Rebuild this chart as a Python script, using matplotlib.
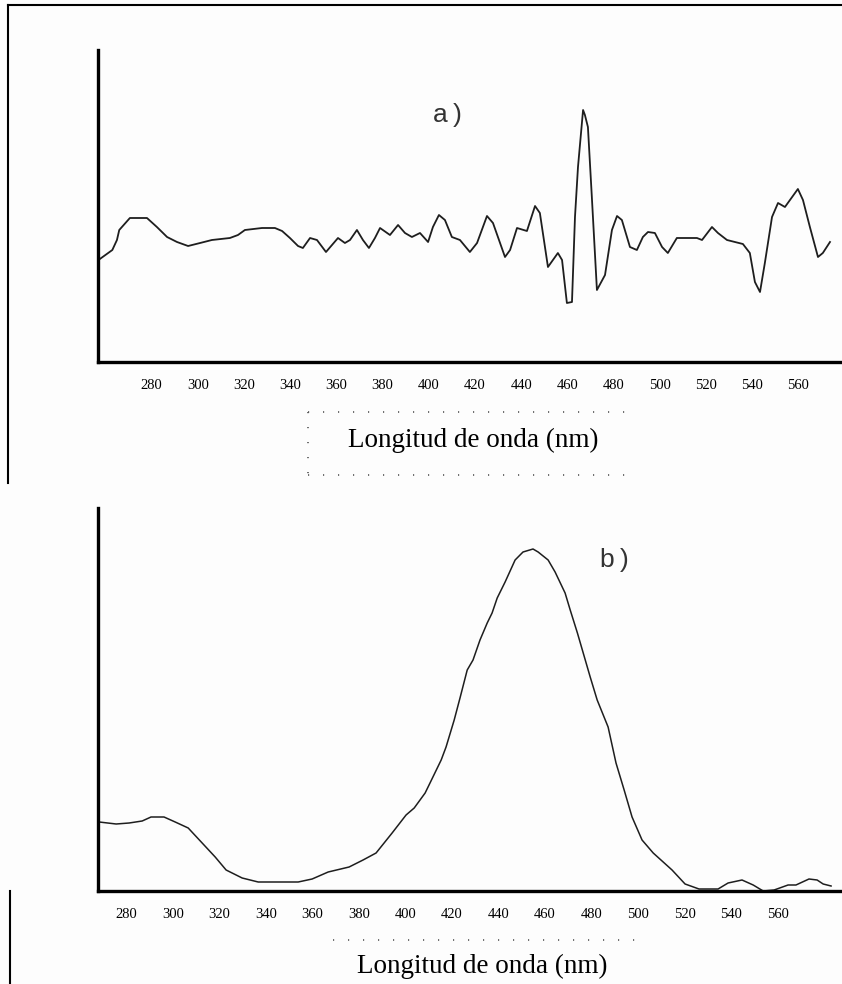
import matplotlib.pyplot as plt
from matplotlib.lines import Line2D

# ---------------------------------------
# Data
# ---------------------------------------
# a) derivative-like spectrum
wl_a = [257, 263, 265, 266, 270.6, 278, 282.3, 286.7, 291, 295.8, 301, 306.1, 313.9, 317.4,
        320.4, 327.8, 333.4, 336.5, 339.9, 343.4, 345.5, 348.6, 351.6, 355.5, 358.1, 360.7,
        363.7, 365.9, 368.9, 371.5, 374.1, 376.7, 378.9, 383.2, 386.7, 389.7, 392.7, 396.2,
        399.7, 401.8, 404.4, 407, 410, 413.5, 417.8, 420.9, 425.2, 427.8, 433, 435.2, 438.2,
        442.5, 446, 448.1, 451.6, 455.9, 457.7, 459.8, 462, 463.3, 464.6, 466.8, 467.6, 468.9,
        470.6, 472.8, 476.3, 479.3, 481.5, 483.6, 487.1, 490.1, 492.7, 494.9, 497.9, 501,
        503.5, 507.4, 516.1, 518.3, 522.6, 525.2, 529.1, 536, 539, 541.2, 543.4, 545.5, 548.6,
        551.2, 554.2, 559.8, 562, 565, 568.5, 570.6, 573.7]
sig_a = [1.02, 1.12, 1.22, 1.32, 1.44, 1.44, 1.35, 1.25, 1.20, 1.16, 1.19, 1.22, 1.24, 1.27,
         1.32, 1.34, 1.34, 1.31, 1.24, 1.16, 1.14, 1.24, 1.22, 1.10, 1.17, 1.24,
         1.19, 1.22, 1.32, 1.22, 1.14, 1.24, 1.34, 1.27, 1.37, 1.29, 1.25, 1.29,
         1.20, 1.35, 1.47, 1.42, 1.25, 1.22, 1.10, 1.19, 1.46, 1.39, 1.05, 1.12, 1.34,
         1.31, 1.56, 1.49, 0.95, 1.09, 1.02, 0.59, 0.60, 1.45, 1.95, 2.52, 2.47, 2.35,
         1.65, 0.72, 0.87, 1.32, 1.46, 1.42, 1.15, 1.12, 1.25, 1.30, 1.29, 1.15,
         1.09, 1.24, 1.24, 1.22, 1.35, 1.29, 1.22, 1.18, 1.09, 0.80, 0.70, 0.99, 1.45,
         1.59, 1.55, 1.73, 1.62, 1.35, 1.05, 1.09, 1.20]

# b) absorption band
wl_b = [268.2, 275.5, 281.1, 286.7, 290.5, 296.1, 300.9, 306.5, 312.5, 318.1, 322.8, 329.7,
        336.6, 353.8, 359.8, 366.7, 375.7, 381.7, 387.3, 394.2, 400.2, 403.7, 408.4, 410.5,
        415.3, 417.4, 420.9, 423.4, 426.5, 429, 432, 435.1, 437.2, 439.4, 442.8, 447.1, 450.5,
        454.8, 457, 461.3, 464.3, 468.6, 470.8, 473.9, 476.4, 479.4, 482.4, 487.1, 490.5, 494,
        497.4, 501.7, 506.5, 514.6, 520.2, 526.2, 534.4, 538.7, 544.7, 549.5, 553.8, 558.5,
        564.5, 567.9, 573.5, 577, 579.6, 583]
sig_b = [0.69, 0.67, 0.68, 0.70, 0.74, 0.74, 0.69, 0.63, 0.48, 0.34, 0.21, 0.13,
         0.09, 0.09, 0.12, 0.19, 0.24, 0.31, 0.38, 0.58, 0.76, 0.83, 0.98, 1.08,
         1.31, 1.44, 1.71, 1.93, 2.21, 2.31, 2.51, 2.68, 2.78, 2.93, 3.09, 3.31, 3.39,
         3.42, 3.39, 3.31, 3.19, 2.98, 2.81, 2.58, 2.38, 2.14, 1.91, 1.64, 1.28, 1.01,
         0.74, 0.51, 0.38, 0.21, 0.07, 0.02, 0.02, 0.08, 0.11, 0.06, 0.00, 0.01,
         0.06, 0.06, 0.12, 0.11, 0.07, 0.05]

ticks = [280, 300, 320, 340, 360, 380, 400, 420, 440, 460, 480, 500, 520, 540, 560]
xlabel = "Longitud de onda (nm)"

W, H = 842, 984
fig = plt.figure(figsize=(W / 100, H / 100), dpi=100)
fig.patch.set_facecolor('#fdfdfd')


def box(l, t, r, b):
    return [l / W, 1 - b / H, (r - l) / W, (b - t) / H]


def fline(xs, ys, **kw):
    fig.add_artist(Line2D([x / W for x in xs], [1 - y / H for y in ys],
                          transform=fig.transFigure, **kw))


def style(ax, xlim, ylim):
    ax.set_facecolor('none')
    ax.set_xlim(*xlim)
    ax.set_ylim(*ylim)
    for s in ['top', 'right']:
        ax.spines[s].set_visible(False)
    for s in ['left', 'bottom']:
        ax.spines[s].set_linewidth(2.4)
        ax.spines[s].set_color('black')
    ax.set_yticks([])
    ax.set_xticks(ticks)
    ax.set_xticklabels([str(t) for t in ticks], family='Liberation Serif', fontsize=10.5)
    ax.tick_params(axis='x', length=0, pad=12)


# ---------------------------------------
# Panel a
# ---------------------------------------
ax_a = fig.add_axes(box(98, 50, 842, 362))
ax_a.plot(wl_a, sig_a, color='#1e1e1e', lw=1.3)
style(ax_a, (256.8, 578.9), (0, 3.12))
ax_a.text(401.8, 2.47, "a\u2009)", family='Liberation Sans', fontsize=19, color='#333333',
          va='center')

# ---------------------------------------
# Panel b
# ---------------------------------------
ax_b = fig.add_axes(box(98, 508, 842, 891))
ax_b.plot(wl_b, sig_b, color='#1e1e1e', lw=1.1)
style(ax_b, (267.7, 587.7), (0, 3.83))
ax_b.text(483.7, 3.31, "b\u2009)", family='Liberation Sans', fontsize=19, color='#333333',
          va='center')

# x labels with dotted boxes
fig.text(473 / W, 1 - 440 / H, xlabel, family='Liberation Serif', fontsize=19.5,
         ha='center', va='center')
fig.text(482 / W, 1 - 966 / H, xlabel, family='Liberation Serif', fontsize=19.5,
         ha='center', va='center')
dots = dict(color='#555555', lw=1.2, linestyle=(0, (0.7, 8.3)))
fline([308, 633], [412, 412], **dots)
fline([308, 633], [475, 475], **dots)
fline([308, 308], [412, 475], **dots)
fline([333, 640], [940, 940], **dots)

# outer frame pieces
fline([8, 842], [5, 5], color='black', lw=1.5)
fline([8, 8], [5, 483], color='black', lw=1.5)
fline([10, 10], [891, 984], color='black', lw=1.5)

fig.savefig('out.png', dpi=100, facecolor=fig.get_facecolor())
